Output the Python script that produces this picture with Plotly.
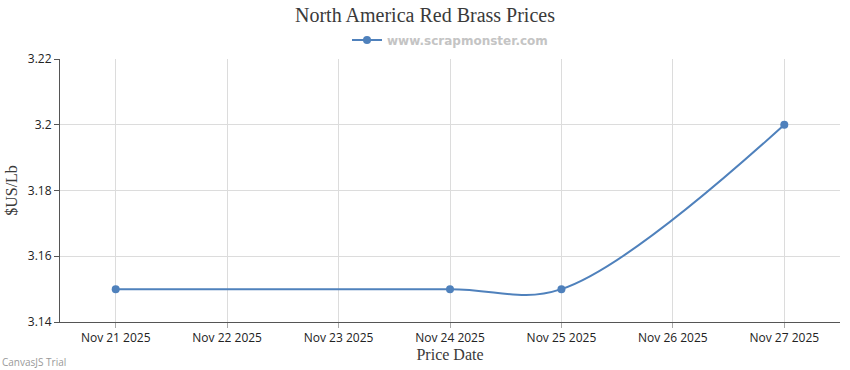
import plotly.graph_objects as go

dates = ["2025-11-21", "2025-11-24", "2025-11-25", "2025-11-27"]
prices = [3.15, 3.15, 3.15, 3.20]
tick_dates = ["2025-11-21", "2025-11-22", "2025-11-23", "2025-11-24",
              "2025-11-25", "2025-11-26", "2025-11-27"]
tick_labels = ["Nov 21 2025", "Nov 22 2025", "Nov 23 2025", "Nov 24 2025",
               "Nov 25 2025", "Nov 26 2025", "Nov 27 2025"]
y_ticks = [3.14, 3.16, 3.18, 3.2, 3.22]

color = "#4f81bc"

fig = go.Figure()
fig.add_trace(go.Scatter(
    x=dates, y=prices, mode="lines+markers",
    name="www.scrapmonster.com",
    line=dict(color=color, width=2, shape="spline", smoothing=1),
    marker=dict(color=color, size=8),
))

fig.update_layout(
    width=850, height=370,
    margin=dict(l=60, r=10, t=59, b=48, autoexpand=False),
    paper_bgcolor="white", plot_bgcolor="white",
    title=dict(text="North America Red Brass Prices", x=0.5, xanchor="center",
               y=0.96, yanchor="middle",
               font=dict(family="Liberation Serif", size=20, color="#3a3a3a")),
    showlegend=True,
    legend=dict(orientation="h", x=0.5, xanchor="center", y=1.072, yanchor="middle",
                font=dict(family="DejaVu Sans", size=12, color="#c4c4c4", weight="bold"),
                itemwidth=30),
    xaxis=dict(
        range=["2025-11-20 12:00", "2025-11-27 12:00"],
        tickvals=tick_dates, ticktext=tick_labels,
        showgrid=True, gridcolor="#dcdcdc", gridwidth=1,
        showline=True, linecolor="#555", linewidth=1,
        ticks="outside", ticklen=5, tickcolor="#aaa",
        tickfont=dict(family="Open Sans", size=12, color="#222"),
        title=dict(text="Price Date", standoff=2,
                   font=dict(family="Liberation Serif", size=16, color="#3a3a3a")),
        zeroline=False, automargin=False,
    ),
    yaxis=dict(
        range=[3.14, 3.22],
        tickvals=y_ticks, ticktext=["3.14", "3.16", "3.18", "3.2", "3.22"],
        showgrid=True, gridcolor="#dcdcdc", gridwidth=1,
        showline=True, linecolor="#555", linewidth=1,
        ticks="outside", ticklen=5, tickcolor="#555",
        tickfont=dict(family="Open Sans", size=12, color="#222"),
        title=dict(text="$US/Lb", standoff=6,
                   font=dict(family="Liberation Serif", size=16, color="#3a3a3a")),
        zeroline=False, automargin=False,
    ),
    annotations=[dict(text="CanvasJS Trial", xref="paper", yref="paper",
                      x=-60/780, y=-40/263, xanchor="left", yanchor="middle",
                      showarrow=False,
                      font=dict(family="Open Sans", size=10, color="#999"))],
)

fig.write_html("out.html",
               config={"displayModeBar": False},
               post_script="document.body.style.margin='0';document.body.style.overflow='hidden';")
